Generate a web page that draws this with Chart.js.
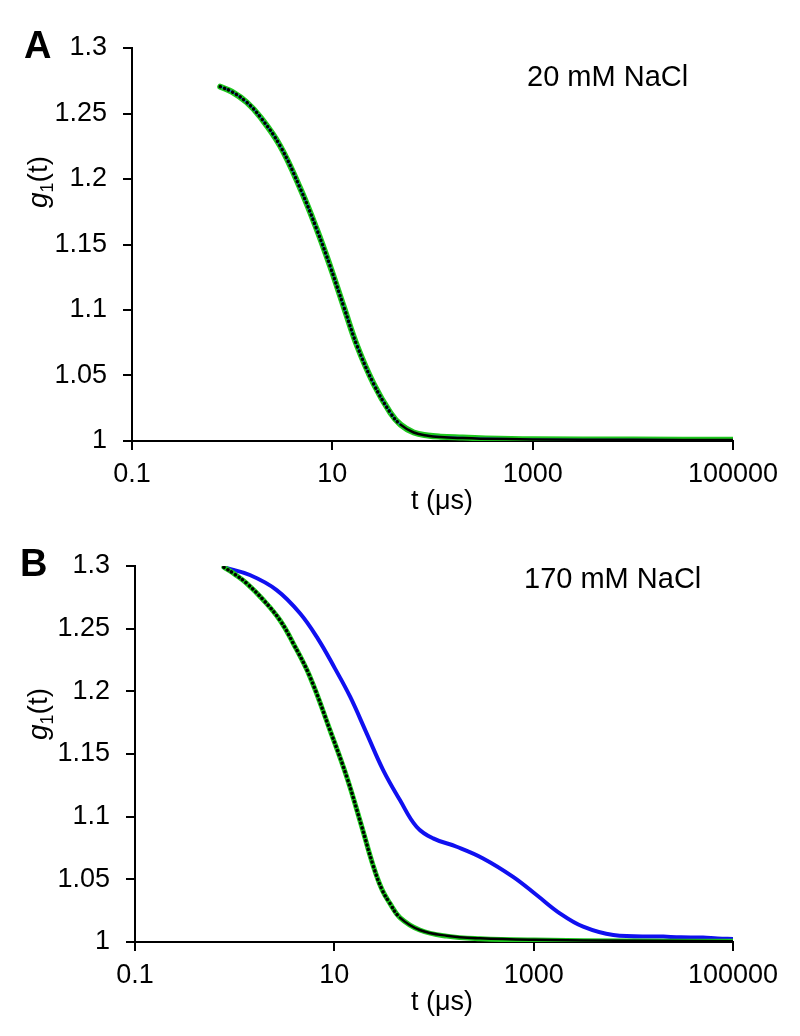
<!DOCTYPE html>
<html>
<head>
<meta charset="utf-8">
<script src="https://cdn.jsdelivr.net/npm/chart.js@4/dist/chart.umd.min.js"></script>
<style>
  html, body { margin: 0; padding: 0; background: #fff; }
  #wrapA { position: absolute; left: 0; top: 0; width: 800px; height: 520px; }
  #wrapB { position: absolute; left: 0; top: 520px; width: 800px; height: 516px; }
</style>
</head>
<body>
<div id="wrapA"><canvas id="chartA" width="800" height="520"></canvas></div>
<div id="wrapB"><canvas id="chartB" width="800" height="516"></canvas></div>
<script>
// axis ticks
const xTicks = [0.1, 10, 1000, 100000];
const xTickLabels = ['0.1', '10', '1000', '100000'];
const yTicks = [1, 1.05, 1.1, 1.15, 1.2, 1.25, 1.3];
const yTickLabels = ['1', '1.05', '1.1', '1.15', '1.2', '1.25', '1.3'];

// panel A (20 mM NaCl)
const tA = [0.76, 1.0, 1.4, 1.9, 3.0, 4.8, 7.0, 9.5, 13, 17.7, 25.9, 38, 48, 65, 90, 120, 200, 300, 1000, 10000, 100000];
const gA = [1.2705, 1.2665, 1.2585, 1.2475, 1.2255, 1.1925, 1.1615, 1.1335, 1.1025, 1.0725, 1.0435, 1.0215, 1.0125, 1.0065, 1.0042, 1.0033, 1.0026, 1.0021, 1.0014, 1.0011, 1.001];
const gAFit = [1.2705, 1.2665, 1.2585, 1.2475, 1.2255, 1.1925, 1.1615, 1.1335, 1.1025, 1.0725, 1.0435, 1.0215, 1.0125, 1.0065, 1.004, 1.003, 1.0022, 1.0018, 1.0012, 1.0009, 1.0008];

// panel B (170 mM NaCl)
const tBGreen = [0.78, 1.0, 1.32, 1.94, 2.84, 3.87, 5.69, 9.04, 13.3, 18.7, 24.5, 30, 36, 45.5, 72, 134, 290, 1000, 10000, 100000];
const gBGreen = [1.299, 1.2935, 1.2862, 1.2729, 1.2569, 1.2383, 1.2117, 1.1691, 1.1319, 1.093, 1.061, 1.042, 1.031, 1.0195, 1.0096, 1.0047, 1.0026, 1.0015, 1.0008, 1.0005];
const gBFit = [1.299, 1.2935, 1.2862, 1.2729, 1.2569, 1.2383, 1.2117, 1.1691, 1.1319, 1.093, 1.061, 1.042, 1.031, 1.0195, 1.0096, 1.005, 1.0029, 1.0017, 1.0009, 1.0006];
const tBBlue = [0.78, 1.42, 2.64, 4.52, 6.9, 10.1, 14.4, 21.1, 30.9, 45.5, 66.8, 98, 169, 311, 622, 1070, 1830, 3140, 6300, 20000, 30000, 50000, 70000, 100000];
const gBBlue = [1.299, 1.2928, 1.2808, 1.2623, 1.2415, 1.2185, 1.1957, 1.1665, 1.1372, 1.1133, 1.092, 1.0827, 1.076, 1.0667, 1.052, 1.0375, 1.0229, 1.0122, 1.0056, 1.0043, 1.0038, 1.0035, 1.0028, 1.0024];

const FONT = '"Liberation Sans", Arial, sans-serif';
const GREEN = '#1ec81e';
const BLUE = '#1010f0';

function pts(t, g) {
    return t.map((v, i) => ({ x: v, y: g[i] }));
}

// letter, axis titles and salt note
const panelText = {
    id: 'panelText',
    afterDraw(chart, args, opts) {
        const ctx = chart.ctx;
        ctx.save();
        ctx.fillStyle = '#000';
        ctx.textBaseline = 'alphabetic';
        ctx.textAlign = 'left';
        ctx.font = 'bold 38px ' + FONT;
        ctx.fillText(opts.letter, opts.letterX, opts.letterY);
        ctx.font = '29px ' + FONT;
        ctx.fillText(opts.note, opts.noteX, opts.noteY);
        ctx.font = '27px ' + FONT;
        ctx.fillText('t (\u03bcs)', opts.titleX, opts.titleY);

        // g1(t), rotated
        ctx.translate(opts.labelX, opts.labelY);
        ctx.rotate(-Math.PI / 2);
        ctx.font = 'italic 28px ' + FONT;
        const wg = ctx.measureText('g').width;
        ctx.font = '18px ' + FONT;
        const w1 = ctx.measureText('1').width;
        ctx.font = '28px ' + FONT;
        const wt = ctx.measureText('(t)').width;
        let x = -(wg + w1 + wt) / 2;
        ctx.font = 'italic 28px ' + FONT;
        ctx.fillText('g', x, 0);
        x += wg;
        ctx.font = '18px ' + FONT;
        ctx.fillText('1', x, 6);
        x += w1;
        ctx.font = '28px ' + FONT;
        ctx.fillText('(t)', x, 0);
        ctx.restore();
    }
};

function makeOptions(yWidth, topPad, bottomPad, text) {
    return {
        responsive: false,
        animation: false,
        devicePixelRatio: 1,
        layout: { padding: { left: 0, top: topPad, right: 67, bottom: bottomPad } },
        elements: { point: { radius: 0 }, line: { tension: 0.4 } },
        plugins: {
            legend: { display: false },
            tooltip: { enabled: false },
            panelText: text
        },
        scales: {
            x: {
                type: 'logarithmic',
                min: 0.1,
                max: 100000,
                afterBuildTicks: s => { s.ticks = xTicks.map(v => ({ value: v })); },
                afterFit: s => { s.height = 79; },
                ticks: {
                    callback: (v, i) => xTickLabels[i],
                    color: '#000',
                    font: { family: FONT, size: 27 },
                    padding: 8,
                    maxRotation: 0,
                    autoSkip: false
                },
                grid: { drawOnChartArea: false, drawTicks: true, tickLength: 9, color: '#000', lineWidth: 2 },
                border: { display: true, color: '#000', width: 2 }
            },
            y: {
                type: 'linear',
                min: 1,
                max: 1.3,
                afterBuildTicks: s => { s.ticks = yTicks.map(v => ({ value: v })); },
                afterFit: s => { s.width = yWidth; },
                ticks: {
                    callback: (v, i) => yTickLabels[i],
                    color: '#000',
                    font: { family: FONT, size: 27 },
                    padding: 16
                },
                grid: { drawOnChartArea: false, drawTicks: true, tickLength: 9, color: '#000', lineWidth: 2 },
                border: { display: true, color: '#000', width: 2 }
            }
        }
    };
}

// dotted black fit, drawn on top (first dataset is painted last);
// at long times the fit points crowd together, so the tail is solid
const fitStyle = {
    borderColor: '#000',
    borderWidth: 3.5,
    borderDash: [0.1, 4.4],
    borderCapStyle: 'round',
    segment: {
        borderDash: c => (c.p0.parsed.x >= 40 ? [] : undefined),
        borderWidth: c => (c.p0.parsed.x >= 40 ? 2.5 : undefined)
    }
};

new Chart(document.getElementById('chartA'), {
    type: 'line',
    data: {
        datasets: [
            Object.assign({ data: pts(tA, gAFit) }, fitStyle),
            { data: pts(tA, gA), borderColor: '#1a66d8', borderWidth: 1.5 },
            { data: pts(tA, gA), borderColor: GREEN, borderWidth: 6, borderCapStyle: 'round' }
        ]
    },
    options: makeOptions(132, 48, 0, {
        letter: 'A', letterX: 24, letterY: 58,
        note: '20 mM NaCl', noteX: 527, noteY: 86,
        titleX: 411, titleY: 509,
        labelX: 47, labelY: 182
    }),
    plugins: [panelText]
});

new Chart(document.getElementById('chartB'), {
    type: 'line',
    data: {
        datasets: [
            Object.assign({ data: pts(tBGreen, gBFit) }, fitStyle),
            { data: pts(tBGreen, gBGreen), borderColor: GREEN, borderWidth: 5, borderCapStyle: 'round' },
            { data: pts(tBBlue, gBBlue), borderColor: BLUE, borderWidth: 4, borderCapStyle: 'round' }
        ]
    },
    options: makeOptions(135, 46, 15, {
        letter: 'B', letterX: 20, letterY: 56,
        note: '170 mM NaCl', noteX: 524, noteY: 68,
        titleX: 411, titleY: 490,
        labelX: 47, labelY: 194
    }),
    plugins: [panelText]
});
</script>
</body>
</html>
